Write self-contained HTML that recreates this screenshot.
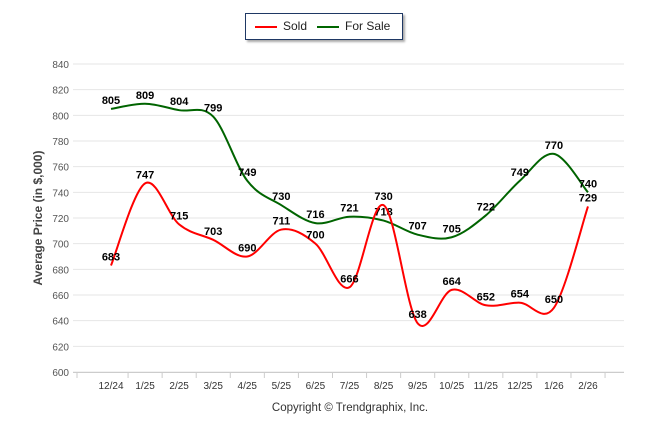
<!DOCTYPE html>
<html><head><meta charset="utf-8"><style>
body{margin:0;background:#fff;font-family:"Liberation Sans",Arial,sans-serif}
#wrap{position:relative;width:646px;height:434px}
</style></head><body>
<div id="wrap">
<div style="position:absolute;left:245px;top:13px;width:156px;height:25px;border:1px solid #1f3864;box-shadow:2px 2px 2px #aaa;background:#fff;font-size:12px;color:#222">
 <div style="position:absolute;left:9px;top:5px"><span style="display:inline-block;width:22px;height:2px;background:#f00;vertical-align:middle;margin-right:6px"></span>Sold</div>
 <div style="position:absolute;left:71px;top:5px"><span style="display:inline-block;width:22px;height:2px;background:#060;vertical-align:middle;margin-right:6px"></span>For Sale</div>
</div>
<svg id="svg" width="646" height="434" style="position:absolute;left:0;top:0"></svg>
<div style="position:absolute;left:0;width:646px;top:402px;text-align:center;font-size:11.5px;color:#333;padding-left:54px;box-sizing:border-box">Copyright © Trendgraphix, Inc.</div>
</div>
<script>
const categories=["12/24","1/25","2/25","3/25","4/25","5/25","6/25","7/25","8/25","9/25","10/25","11/25","12/25","1/26","2/26"];
const soldValues=[683,747,715,703,690,711,700,666,730,638,664,652,654,650,729];
const forSaleValues=[805,809,804,799,749,730,716,721,718,707,705,722,749,770,740];
const yTicks=[600,620,640,660,680,700,720,740,760,780,800,820,840];
const NS="http://www.w3.org/2000/svg",svg=document.getElementById('svg');
const x=i=>111+i*34.07, y=v=>372-(v-600)*(308/240);
function mk(t,a,p){const e=document.createElementNS(NS,t);for(const k in a)e.setAttribute(k,a[k]);(p||svg).appendChild(e);return e;}
yTicks.forEach(v=>{
 const l=mk('line',{x1:73,x2:624,y1:y(v),y2:y(v),stroke:'#e6e6e6','stroke-width':1});
 
 
 const t=mk('text',{x:69,y:y(v)+4,'text-anchor':'end','font-size':10,fill:'#555'});t.textContent=v;
 
 
});
const ax=mk('line',{x1:73,x2:624,y1:372.5,y2:372.5,stroke:'#ccc'});


for(let i=0;i<=categories.length;i++){
 const tx=i==0?77:x(i)-17;
 mk('line',{x1:tx,x2:tx,y1:373,y2:378,stroke:'#ccc'});
}
categories.forEach((c,i)=>{
 const t=mk('text',{x:x(i),y:389,'text-anchor':'middle','font-size':10,fill:'#333'});t.textContent=c;
 
 
});
const yt=mk('text',{x:0,y:0,transform:'translate(42,218) rotate(-90)','text-anchor':'middle','font-size':12,'font-weight':'bold',fill:'#444'});
yt.textContent='Average Price (in $,000)';


function path(vals){
 const p=vals.map((v,i)=>[x(i),y(v)]);let d='M'+p[0][0]+','+p[0][1];
 for(let i=0;i<p.length-1;i++){
  const p0=p[i-1]||p[i],p1=p[i],p2=p[i+1],p3=p[i+2]||p2,k=6;
  d+=` C${p1[0]+(p2[0]-p0[0])/k},${p1[1]+(p2[1]-p0[1])/k} ${p2[0]-(p3[0]-p1[0])/k},${p2[1]-(p3[1]-p1[1])/k} ${p2[0]},${p2[1]}`;
 }
 return d;
}
function series(vals,col,name){
 const pa=mk('path',{d:path(vals),fill:'none',stroke:col,'stroke-width':2});
 
 
 vals.forEach((v,i)=>{
  const t=mk('text',{x:x(i),y:y(v)-5,'text-anchor':'middle','font-size':11,'font-weight':'bold',fill:'#000'});t.textContent=v;
  
  
 });
}
series(forSaleValues,'#006400','for-sale');
series(soldValues,'#ff0000','sold');
</script>
</body></html>
